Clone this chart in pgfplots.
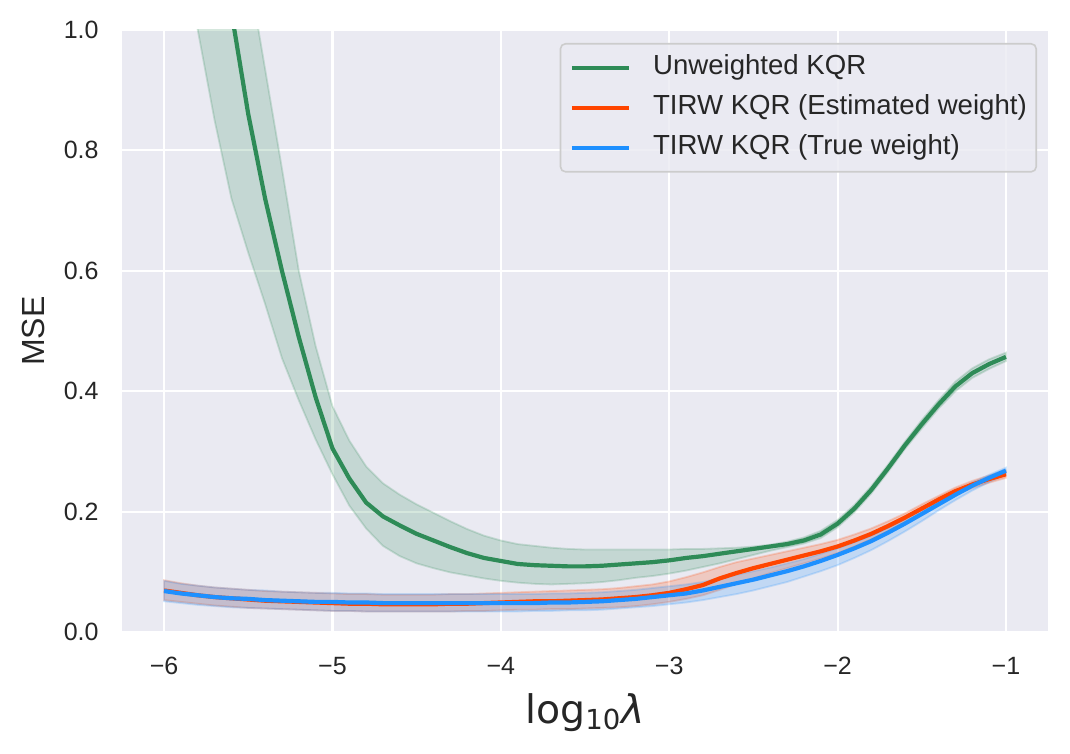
\documentclass[border=0pt]{standalone}
\usepackage{pgfplots}
\pgfplotsset{compat=1.18}
\usepackage{pgfplotstable}
\usepgfplotslibrary{fillbetween}
\usepackage{fontspec}
\setmainfont{Liberation Sans}
\newfontfamily\dejavu{DejaVu Sans}
\definecolor{bg}{HTML}{EAEAF2}
\definecolor{txt}{HTML}{262626}
\definecolor{sgreen}{RGB}{46,139,87}
\definecolor{ored}{RGB}{255,69,0}
\definecolor{dblue}{RGB}{30,144,255}
\definecolor{lgframe}{HTML}{CCCCCC}

\pgfplotstableread{
x y lo hi
-6.0 1.90 1.30 2.60
-5.9 1.65 1.16 2.20
-5.8 1.42 1.00 1.90
-5.7 1.21 0.85 1.60
-5.6 1.03 0.72 1.32
-5.5 0.86 0.63 1.10
-5.4 0.72 0.545 0.935
-5.3 0.60 0.455 0.77
-5.2 0.49 0.385 0.60
-5.1 0.39 0.320 0.475
-5.0 0.305 0.262 0.375
-4.9 0.255 0.210 0.318
-4.8 0.215 0.172 0.275
-4.7 0.192 0.143 0.247
-4.6 0.177 0.126 0.228
-4.5 0.163 0.114 0.212
-4.4 0.152 0.106 0.198
-4.3 0.141 0.099 0.184
-4.2 0.131 0.094 0.171
-4.1 0.123 0.089 0.160
-4.0 0.118 0.085 0.152
-3.9 0.113 0.082 0.146
-3.8 0.111 0.080 0.143
-3.7 0.110 0.079 0.140
-3.6 0.109 0.080 0.138
-3.5 0.109 0.081 0.137
-3.4 0.110 0.083 0.137
-3.3 0.112 0.086 0.137
-3.2 0.114 0.090 0.137
-3.1 0.116 0.093 0.137
-3.0 0.119 0.097 0.137
-2.9 0.123 0.102 0.138
-2.8 0.126 0.108 0.138
-2.7 0.130 0.114 0.139
-2.6 0.134 0.121 0.140
-2.5 0.138 0.128 0.142
-2.4 0.142 0.135 0.145
-2.3 0.146 0.141 0.150
-2.2 0.152 0.147 0.157
-2.1 0.162 0.156 0.168
-2.0 0.180 0.174 0.186
-1.9 0.205 0.199 0.211
-1.8 0.236 0.230 0.242
-1.7 0.272 0.266 0.278
-1.6 0.310 0.304 0.316
-1.5 0.345 0.338 0.352
-1.4 0.378 0.371 0.385
-1.3 0.408 0.400 0.416
-1.2 0.430 0.422 0.438
-1.1 0.445 0.437 0.453
-1.0 0.457 0.450 0.464
}\green

\pgfplotstableread{
x y lo hi
-6.0 0.069 0.053 0.086
-5.9 0.065 0.050 0.081
-5.8 0.061 0.047 0.077
-5.7 0.058 0.044 0.074
-5.6 0.056 0.042 0.072
-5.5 0.054 0.040 0.070
-5.4 0.052 0.039 0.068
-5.3 0.051 0.038 0.067
-5.2 0.050 0.037 0.066
-5.1 0.049 0.036 0.065
-5.0 0.048 0.035 0.064
-4.9 0.047 0.035 0.063
-4.8 0.047 0.034 0.063
-4.7 0.046 0.034 0.062
-4.6 0.046 0.034 0.062
-4.5 0.046 0.034 0.062
-4.4 0.046 0.034 0.062
-4.3 0.047 0.034 0.063
-4.2 0.047 0.035 0.063
-4.1 0.048 0.035 0.064
-4.0 0.049 0.036 0.065
-3.9 0.050 0.037 0.066
-3.8 0.051 0.037 0.067
-3.7 0.051 0.038 0.068
-3.6 0.052 0.038 0.069
-3.5 0.053 0.039 0.070
-3.4 0.054 0.040 0.071
-3.3 0.056 0.041 0.073
-3.2 0.058 0.043 0.076
-3.1 0.061 0.046 0.079
-3.0 0.065 0.050 0.084
-2.9 0.071 0.055 0.091
-2.8 0.078 0.061 0.099
-2.7 0.089 0.070 0.108
-2.6 0.098 0.080 0.116
-2.5 0.106 0.089 0.122
-2.4 0.113 0.098 0.128
-2.3 0.120 0.106 0.134
-2.2 0.127 0.114 0.140
-2.1 0.134 0.122 0.146
-2.0 0.142 0.131 0.153
-1.9 0.152 0.142 0.162
-1.8 0.163 0.154 0.172
-1.7 0.176 0.168 0.184
-1.6 0.190 0.183 0.197
-1.5 0.205 0.198 0.212
-1.4 0.220 0.214 0.226
-1.3 0.234 0.228 0.240
-1.2 0.245 0.239 0.251
-1.1 0.254 0.248 0.260
-1.0 0.262 0.256 0.268
}\orange

\pgfplotstableread{
x y lo hi
-6.0 0.068 0.051 0.085
-5.9 0.064 0.048 0.080
-5.8 0.061 0.045 0.077
-5.7 0.058 0.043 0.074
-5.6 0.056 0.041 0.072
-5.5 0.055 0.040 0.070
-5.4 0.053 0.039 0.069
-5.3 0.052 0.038 0.067
-5.2 0.051 0.037 0.066
-5.1 0.050 0.036 0.065
-5.0 0.050 0.035 0.065
-4.9 0.049 0.035 0.064
-4.8 0.049 0.034 0.064
-4.7 0.048 0.034 0.063
-4.6 0.048 0.034 0.063
-4.5 0.048 0.034 0.063
-4.4 0.048 0.034 0.063
-4.3 0.048 0.034 0.063
-4.2 0.048 0.034 0.063
-4.1 0.048 0.034 0.063
-4.0 0.048 0.034 0.063
-3.9 0.048 0.034 0.063
-3.8 0.048 0.035 0.063
-3.7 0.049 0.035 0.064
-3.6 0.049 0.036 0.064
-3.5 0.050 0.036 0.065
-3.4 0.051 0.037 0.066
-3.3 0.053 0.039 0.068
-3.2 0.055 0.041 0.070
-3.1 0.058 0.043 0.073
-3.0 0.061 0.046 0.076
-2.9 0.064 0.049 0.079
-2.8 0.069 0.053 0.083
-2.7 0.075 0.058 0.089
-2.6 0.081 0.063 0.095
-2.5 0.087 0.069 0.101
-2.4 0.094 0.076 0.107
-2.3 0.101 0.083 0.114
-2.2 0.109 0.092 0.121
-2.1 0.118 0.101 0.130
-2.0 0.128 0.111 0.139
-1.9 0.139 0.123 0.149
-1.8 0.151 0.136 0.160
-1.7 0.165 0.151 0.173
-1.6 0.180 0.167 0.187
-1.5 0.196 0.184 0.202
-1.4 0.212 0.202 0.218
-1.3 0.228 0.219 0.233
-1.2 0.243 0.235 0.248
-1.1 0.256 0.249 0.261
-1.0 0.268 0.262 0.273
}\blue

\begin{document}
\begin{tikzpicture}
\begin{axis}[
  at={(0,0)}, anchor=south west,
  scale only axis, width=463pt, height=301pt,
  xmin=-6.25, xmax=-0.75, ymin=0, ymax=1,
  axis background/.style={fill=bg},
  axis line style={draw=none},
  grid=major, major grid style={white, line width=1.05pt},
  major tick length=0pt,
  xtick={-6,-5,-4,-3,-2,-1}, xticklabels={−6,−5,−4,−3,−2,−1},
  ytick={0,0.2,0.4,0.6,0.8,1}, yticklabels={0.0,0.2,0.4,0.6,0.8,1.0},
  xticklabel style={font=\fontsize{12.5pt}{15pt}\selectfont, text=txt, inner sep=0pt, anchor=north, yshift=-12.5pt},
  yticklabel style={font=\fontsize{12.5pt}{15pt}\selectfont, text=txt, inner sep=0pt, anchor=east, xshift=-11.5pt},
  xlabel={log\textsubscript{10}\textit{λ}},
  x label style={at={(axis description cs:0.5,-0.1512)}, anchor=base, inner sep=0pt, font=\dejavu\fontsize{19.7pt}{24pt}\selectfont, text=txt},
  ylabel={MSE},
  y label style={at={(axis description cs:-0.0956,0.5)}, anchor=center, inner sep=0pt, font=\fontsize{16pt}{19pt}\selectfont, text=txt},
  legend style={at={(1,1)}, anchor=north east, xshift=-5.5pt, yshift=-6.5pt,
    draw=lgframe, line width=0.8pt, fill=bg, fill opacity=0.8, text opacity=1, draw opacity=1,
    rounded corners=2.5pt, inner xsep=4.7pt, inner ysep=5.5pt, row sep=7pt,
    font=\fontsize{13.8pt}{16pt}\selectfont, text=txt,
    nodes={inner sep=0pt, text height=10pt, text depth=3pt},
    /tikz/every odd column/.append style={column sep=11pt}},
  legend cell align=left,
  legend image code/.code={\draw[#1, line width=2.1pt] (0pt,0pt) -- (28.5pt,0pt);},
]
% green
\addplot[draw=none, name path=gU, forget plot] table[x=x,y=hi]{\green};
\addplot[draw=none, name path=gL, forget plot] table[x=x,y=lo]{\green};
\addplot[fill=sgreen, fill opacity=0.2, draw=sgreen, draw opacity=0.2, line width=0.9pt, forget plot] fill between[of=gU and gL];
\addplot[sgreen, line width=2.1pt, line join=round] table[x=x,y=y]{\green};
\addlegendentry{Unweighted KQR}
% orange
\addplot[draw=none, name path=oU, forget plot] table[x=x,y=hi]{\orange};
\addplot[draw=none, name path=oL, forget plot] table[x=x,y=lo]{\orange};
\addplot[fill=ored, fill opacity=0.2, draw=ored, draw opacity=0.2, line width=0.9pt, forget plot] fill between[of=oU and oL];
\addplot[ored, line width=2.1pt, line join=round] table[x=x,y=y]{\orange};
\addlegendentry{TIRW KQR (Estimated weight)}
% blue
\addplot[draw=none, name path=bU, forget plot] table[x=x,y=hi]{\blue};
\addplot[draw=none, name path=bL, forget plot] table[x=x,y=lo]{\blue};
\addplot[fill=dblue, fill opacity=0.2, draw=dblue, draw opacity=0.2, line width=0.9pt, forget plot] fill between[of=bU and bL];
\addplot[dblue, line width=2.1pt, line join=round] table[x=x,y=y]{\blue};
\addlegendentry{TIRW KQR (True weight)}
\end{axis}
\pgfresetboundingbox
\path[use as bounding box] (-61pt,-61pt) rectangle (474pt,316pt);
\end{tikzpicture}
\end{document}
